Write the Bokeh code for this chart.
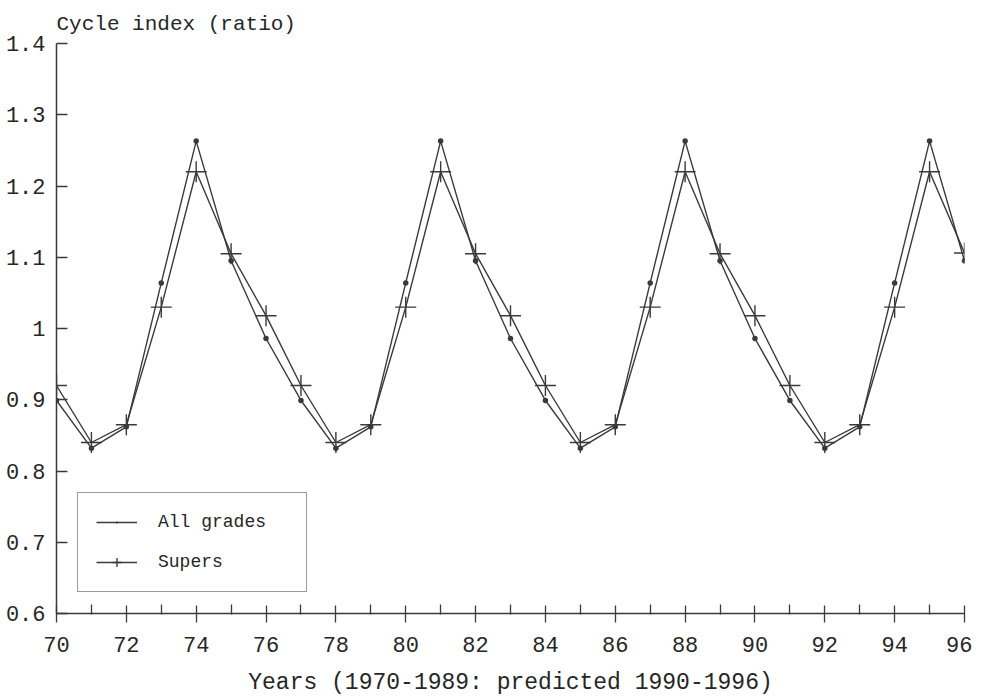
from bokeh.plotting import figure
from bokeh.models import (ColumnDataSource, Range1d, FixedTicker, CustomJSTickFormatter,
                          Legend, LegendItem)
from bokeh.embed import file_html
from bokeh.resources import INLINE

# ---- data ----
years = [70, 71, 72, 73, 74, 75, 76, 77, 78, 79, 80, 81, 82, 83, 84, 85, 86, 87, 88,
         89, 90, 91, 92, 93, 94, 95, 96]
all_grades = [0.899, 0.832, 0.862, 1.064, 1.263, 1.095, 0.986, 0.899, 0.832, 0.862,
              1.064, 1.263, 1.095, 0.986, 0.899, 0.832, 0.862, 1.064, 1.263, 1.095,
              0.986, 0.899, 0.832, 0.862, 1.064, 1.263, 1.095]
supers = [0.920, 0.840, 0.865, 1.030, 1.220, 1.105, 1.018, 0.920, 0.840, 0.865,
          1.030, 1.220, 1.105, 1.018, 0.920, 0.840, 0.865, 1.030, 1.220, 1.105,
          1.018, 0.920, 0.840, 0.865, 1.030, 1.220, 1.106]
x_major_ticks = [70, 72, 74, 76, 78, 80, 82, 84, 86, 88, 90, 92, 94, 96]
x_minor_ticks = [71, 73, 75, 77, 79, 81, 83, 85, 87, 89, 91, 93, 95]
y_ticks = [0.6, 0.7, 0.8, 0.9, 1.0, 1.1, 1.2, 1.3, 1.4]
y_label = "Cycle index (ratio)"
x_label = "Years (1970-1989: predicted 1990-1996)"
series_names = ["All grades", "Supers"]

W, H = 972, 698
FONT = "Liberation Mono"
INK = "#262626"
LINE = "#3a3a3a"

src = ColumnDataSource(dict(x=years, a=all_grades, s=supers))

p = figure(width=W, height=H, output_backend="svg", toolbar_location=None,
           x_range=Range1d(70, 96), y_range=Range1d(0.6, 1.4),
           min_border_left=56, min_border_right=W - 964,
           min_border_top=43, min_border_bottom=H - 613,
           title=y_label)
p.outline_line_color = None
p.grid.visible = False
p.background_fill_color = "white"
p.border_fill_color = "white"

p.title.text_font = FONT
p.title.text_font_size = "21px"
p.title.text_font_style = "normal"
p.title.text_color = INK
p.title.align = "left"
p.title.offset = 0
p.title.standoff = 16

# x axis
xa = p.xaxis[0]
xa.ticker = FixedTicker(ticks=x_major_ticks, minor_ticks=x_minor_ticks)
xa.axis_label = x_label
xa.axis_label_text_font = FONT
xa.axis_label_text_font_size = "23px"
xa.axis_label_text_font_style = "normal"
xa.axis_label_text_color = INK
xa.axis_label_standoff = 15
xa.major_label_text_font = FONT
xa.major_label_text_font_size = "22px"
xa.major_label_text_color = INK
xa.major_label_standoff = 14
xa.axis_line_color = LINE
xa.axis_line_width = 1.5
xa.major_tick_line_color = LINE
xa.major_tick_line_width = 1.3
xa.major_tick_in = 8
xa.major_tick_out = 9
xa.minor_tick_line_color = LINE
xa.minor_tick_line_width = 1.3
xa.minor_tick_in = 9
xa.minor_tick_out = 1

# y axis
ya = p.yaxis[0]
ya.ticker = FixedTicker(ticks=y_ticks, minor_ticks=[])
ya.formatter = CustomJSTickFormatter(code="return String(Number(tick.toFixed(1)));")
ya.major_label_text_font = FONT
ya.major_label_text_font_size = "22px"
ya.major_label_text_color = INK
ya.major_label_standoff = 11
ya.axis_line_color = LINE
ya.axis_line_width = 1.5
ya.major_tick_line_color = LINE
ya.major_tick_line_width = 1.3
ya.major_tick_in = 11
ya.major_tick_out = 0
ya.minor_tick_line_color = None

# series
la = p.line("x", "a", source=src, line_color=LINE, line_width=1.4)
ma = p.scatter("x", "a", source=src, marker="dot", size=22,
               fill_color=LINE, line_color=LINE)
ls = p.line("x", "s", source=src, line_color=LINE, line_width=1.4)
ms = p.scatter("x", "s", source=src, marker="cross", size=21,
               line_color=LINE, line_width=1.4)

legend = Legend(items=[LegendItem(label=series_names[0], renderers=[la, ma]),
                       LegendItem(label=series_names[1], renderers=[ls, ms])],
                location=(21, 21), orientation="vertical")
legend.label_text_font = FONT
legend.label_text_font_size = "18px"
legend.label_text_color = INK
legend.glyph_width = 41
legend.glyph_height = 22
legend.label_height = 22
legend.label_width = 130
legend.label_standoff = 21
legend.spacing = 18
legend.padding = 18
legend.margin = 0
legend.border_line_color = LINE
legend.border_line_width = 1.5
legend.background_fill_color = "white"
legend.background_fill_alpha = 1.0
p.add_layout(legend, "center")

open("out.html", "w").write(file_html(p, INLINE))
